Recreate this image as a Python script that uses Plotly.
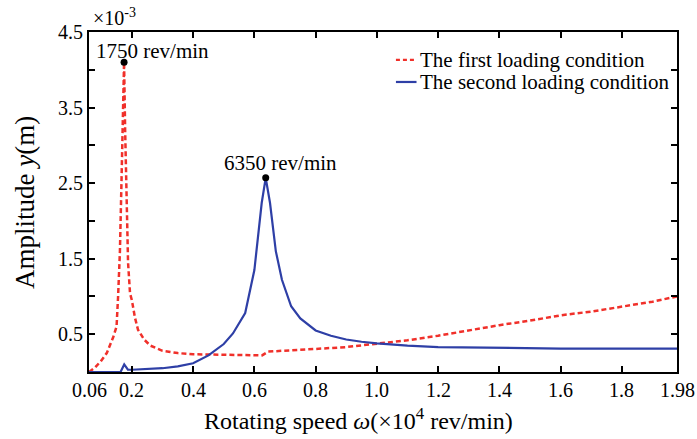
import plotly.graph_objects as go

# ---------------- data ----------------
speed_first = [0.06, 0.08, 0.10, 0.118, 0.139, 0.15, 0.155, 0.161, 0.166, 0.170, 0.1745,
               0.178, 0.1815, 0.1875, 0.194, 0.20, 0.21, 0.22, 0.24, 0.26, 0.30, 0.35,
               0.40, 0.50, 0.60, 0.625, 0.645, 0.70, 0.80, 0.90, 1.00, 1.10, 1.20, 1.30,
               1.40, 1.50, 1.60, 1.70, 1.80, 1.90, 1.98]
amp_first = [0.0, 0.06, 0.15, 0.25, 0.46, 0.60, 1.0, 1.6, 2.5, 3.4, 4.1,
             3.2, 2.4, 1.45, 1.04, 0.95, 0.72, 0.56, 0.43, 0.35, 0.28, 0.25,
             0.235, 0.225, 0.22, 0.22, 0.27, 0.28, 0.305, 0.33, 0.37, 0.42, 0.48, 0.55,
             0.62, 0.68, 0.75, 0.80, 0.86, 0.93, 1.0]

speed_second = [0.06, 0.15, 0.163, 0.175, 0.187, 0.20, 0.25, 0.30, 0.35, 0.40, 0.45,
                0.50, 0.53, 0.57, 0.60, 0.624, 0.637, 0.651, 0.67, 0.69, 0.72, 0.75,
                0.80, 0.85, 0.90, 0.95, 1.00, 1.10, 1.20, 1.40, 1.60, 1.80, 1.98]
amp_second = [0.0, 0.0, 0.0, 0.10, 0.03, 0.03, 0.04, 0.05, 0.075, 0.115, 0.22,
              0.37, 0.51, 0.78, 1.35, 2.24, 2.57, 2.24, 1.6, 1.22, 0.87, 0.71,
              0.55, 0.48, 0.43, 0.40, 0.38, 0.35, 0.33, 0.315, 0.31, 0.31, 0.31]

peak_speed = [0.1745, 0.637]
peak_amp = [4.1, 2.57]
peak_labels = ["1750 rev/min", "6350 rev/min"]
peak_xshift = [28, 15]
peak_yshift = [11, 15]

x_tickvals = [0.06, 0.2, 0.4, 0.6, 0.8, 1.0, 1.2, 1.4, 1.6, 1.8, 1.98]
x_ticktext = ["0.06", "0.2", "0.4", "0.6", "0.8", "1.0", "1.2", "1.4", "1.6", "1.8", "1.98"]
y_tickvals = [0.5, 1.5, 2.5, 3.5, 4.5]
y_ticktext = ["0.5", "1.5", "2.5", "3.5", "4.5"]
y_minorvals = [1.0, 2.0, 3.0, 4.0]

series_names = ["The first loading condition", "The second loading condition"]
RED = "#f0302a"
BLUE = "#2e3fa6"
FONT = "Times New Roman, Liberation Serif, DejaVu Serif, serif"

fig = go.Figure()
fig.add_trace(go.Scatter(x=speed_first, y=amp_first, mode="lines", name=series_names[0],
                         line=dict(color=RED, width=2.5, dash="5px,3px"), showlegend=False))
fig.add_trace(go.Scatter(x=speed_second, y=amp_second, mode="lines", name=series_names[1],
                         line=dict(color=BLUE, width=2.2), showlegend=False))
fig.add_trace(go.Scatter(x=peak_speed, y=peak_amp, mode="markers",
                         marker=dict(color="black", size=7), showlegend=False))

for xs, ys, t, dx, dy in zip(peak_speed, peak_amp, peak_labels, peak_xshift, peak_yshift):
    fig.add_annotation(x=xs, y=ys, text=t, showarrow=False, xanchor="center", yanchor="middle",
                       xshift=dx, yshift=dy, font=dict(size=21, color="black", family=FONT))

# x tick labels (placed from the tick lists)
for tv, tt in zip(x_tickvals, x_ticktext):
    fig.add_annotation(x=tv, xref="x", y=-0.052, yref="paper", text=tt, showarrow=False,
                       xanchor="center", yanchor="middle",
                       font=dict(size=20, color="black", family=FONT))

# manual legend
leg_y = [0.918, 0.853]
leg_col = [RED, BLUE]
leg_dash = ["4px,3px", "solid"]
for yy, c, d, name in zip(leg_y, leg_col, leg_dash, series_names):
    fig.add_shape(type="line", xref="paper", yref="paper", x0=0.522, x1=0.557, y0=yy, y1=yy,
                  line=dict(color=c, width=2.2, dash=d))
    fig.add_annotation(xref="paper", yref="paper", x=0.560, y=yy, text=name, showarrow=False,
                       xanchor="left", yanchor="middle",
                       font=dict(size=21, color="black", family=FONT))

# exponent label
fig.add_annotation(xref="paper", yref="paper", x=0.004, y=1.043, text="×10<sup>-3</sup>",
                   showarrow=False, xanchor="left", yanchor="middle",
                   font=dict(size=20, color="black", family=FONT))
# axis titles
fig.add_annotation(xref="paper", yref="paper", x=0.459, y=-0.139,
                   text="Rotating speed <i>ω</i>(×10<sup>4</sup> rev/min)",
                   showarrow=False, xanchor="center", yanchor="middle",
                   font=dict(size=24, color="black", family=FONT))
fig.add_annotation(xref="paper", yref="paper", x=-0.109, y=0.5,
                   text="Amplitude <i>y</i>(m)", textangle=-90,
                   showarrow=False, xanchor="center", yanchor="middle",
                   font=dict(size=27, color="black", family=FONT))

axis_common = dict(showline=True, linecolor="black", linewidth=2, mirror="ticks",
                   ticks="inside", ticklen=6, tickwidth=1.5, tickcolor="black",
                   showgrid=False, zeroline=False,
                   tickfont=dict(size=20, color="black", family=FONT))
fig.update_xaxes(range=[0.06, 1.98], tickvals=x_tickvals, showticklabels=False, **axis_common)
fig.update_yaxes(range=[0, 4.5], tickvals=y_tickvals, ticktext=y_ticktext,
                 minor=dict(tickvals=y_minorvals, ticks="inside", ticklen=6, tickwidth=1.5,
                            tickcolor="black", showgrid=False),
                 **axis_common)

fig.update_layout(width=697, height=439, margin=dict(l=89, r=20, t=32, b=67),
                  plot_bgcolor="white", paper_bgcolor="white",
                  font=dict(family=FONT, color="black"))

fig.write_html("out.html")
